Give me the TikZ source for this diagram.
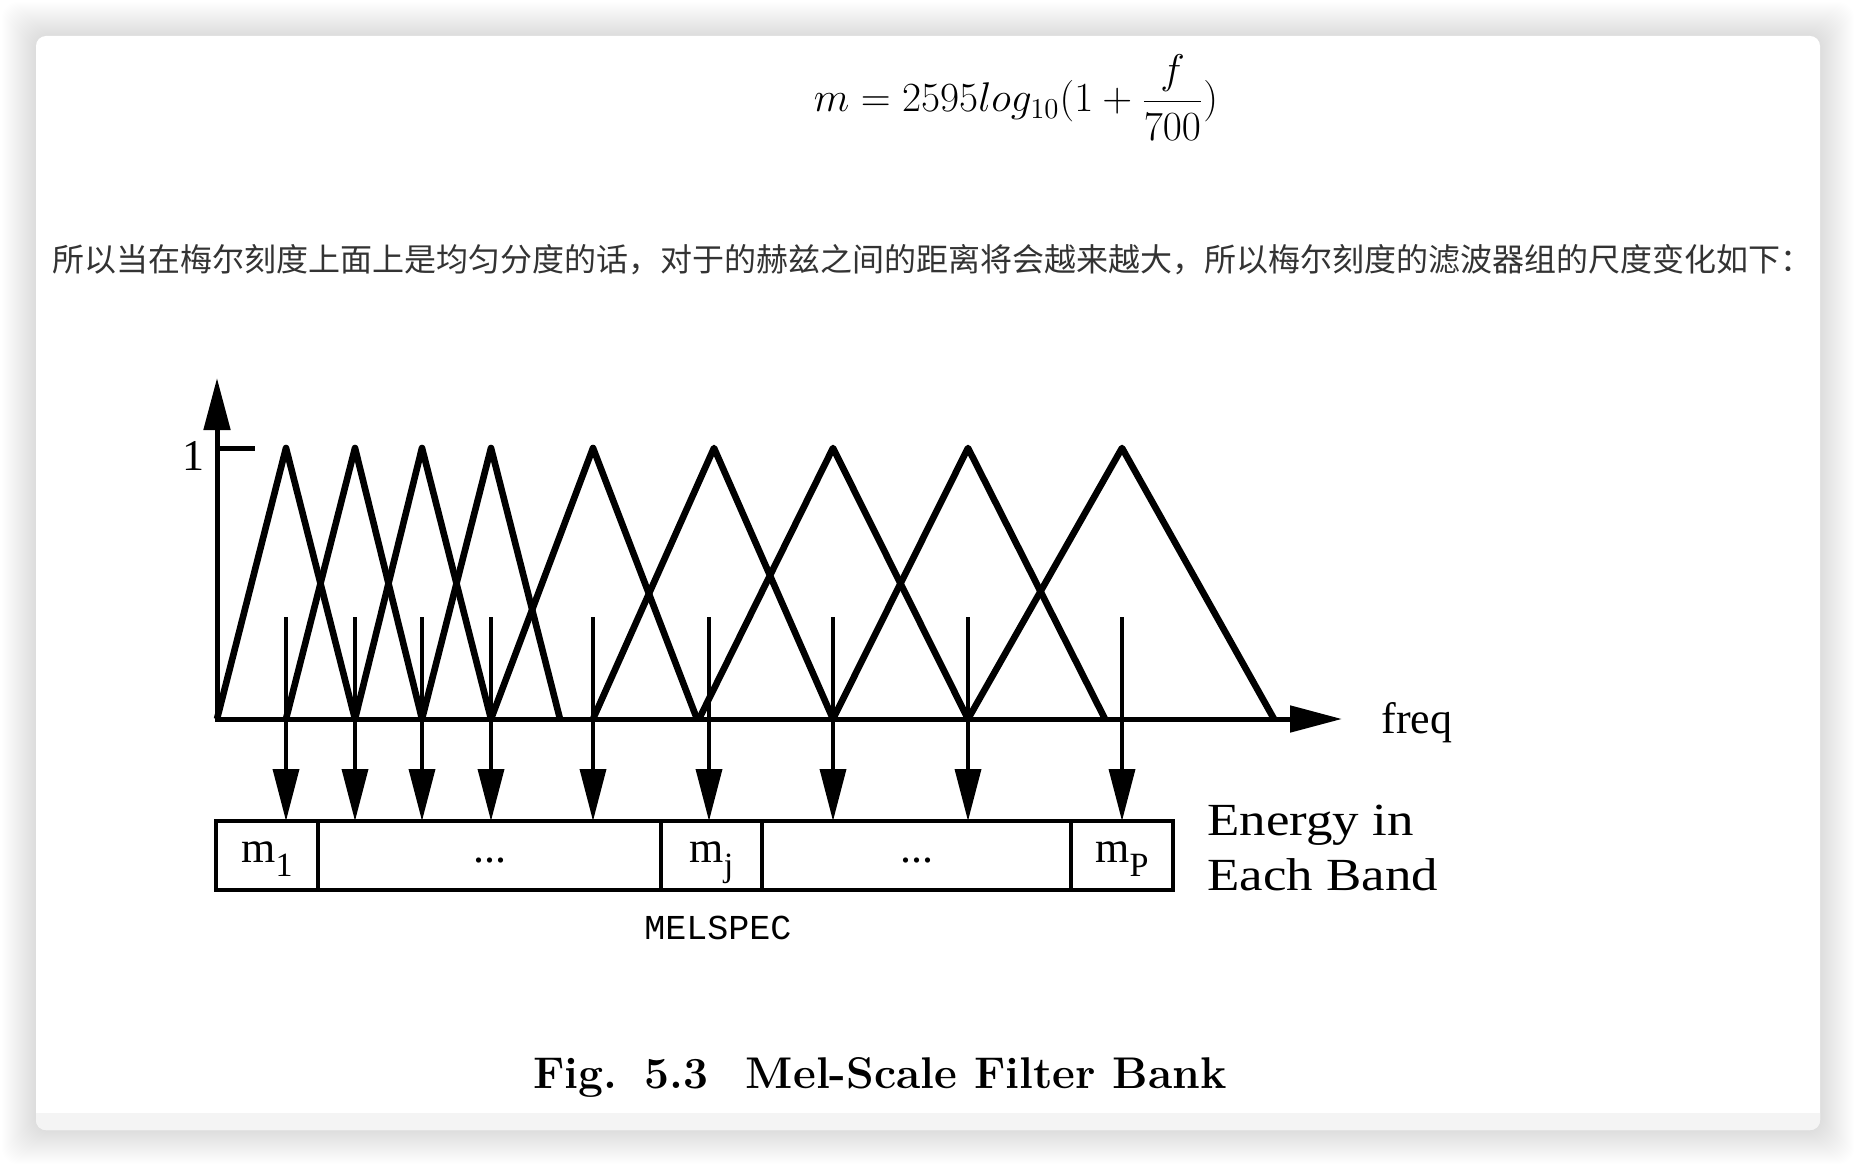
\documentclass[tikz,border=0pt]{standalone}
\usepackage{fontspec}
\usepackage{xcolor}
\usetikzlibrary{arrows.meta,positioning}
\newfontfamily\figfont{Liberation Serif}
\newfontfamily\widefigfont[FakeStretch=1.15]{Liberation Serif}
\newfontfamily\codefont{Liberation Mono}
\newfontfamily\cjkfont{Noto Sans CJK SC}
\definecolor{bodygray}{HTML}{333333}
\definecolor{strip}{HTML}{F4F4F4}
\newcommand{\melband}[1]{m\raisebox{-7pt}{\fontsize{17}{17}\selectfont #1}}

\begin{document}
\begin{tikzpicture}[
  x=0.5pt, y=-0.5pt,
  >={Triangle[length=26pt,width=13pt]},
  axisline/.style={<->, line width=2.5pt},
  melfilter/.style={line width=3.3pt, line join=round},
  bandarrow/.style={->, line width=1.8pt},
  cell/.style={draw, line width=2pt, outer sep=0pt, inner sep=0pt,
               minimum height=34.5pt, text height=12pt, text depth=5pt,
               font=\figfont\fontsize{22}{22}\selectfont},
  axislabel/.style={font=\figfont\fontsize{22}{22}\selectfont, inner sep=0pt},
  bandnote/.style={font=\widefigfont\fontsize{23}{27.5}\selectfont, align=left, inner sep=0pt},
  codelabel/.style={font=\codefont\fontsize{17.5}{20}\selectfont, inner sep=0pt},
  figcaption/.style={font=\bfseries\fontsize{22.2}{26}\selectfont, inner sep=0pt},
  formula/.style={font=\fontsize{19.5}{24}\selectfont, inner sep=0pt},
  bodytext/.style={font=\cjkfont\fontsize{16}{20}\selectfont, text=bodygray, inner sep=0pt}
]
\useasboundingbox (0,0) rectangle (1856,1166);

% Card with soft shadow
\foreach \d in {1,...,34}
  \fill[black, opacity=0.0055, rounded corners=8pt] ({36-\d},{36-\d}) rectangle ({1820+\d},{1130+\d});
\fill[white, rounded corners=5pt] (36,36) rectangle (1820,1130);
\fill[strip, rounded corners=5pt] (36,1113) -- (36,1130) -- (1820,1130) -- (1820,1113);

% Text above the figure
\node[formula, anchor=base] (formula) at (1016,112)
  {$\displaystyle m = 2595log_{10}(1+\frac{f}{700})$};
\node[bodytext, anchor=base west] (note) at (52,271)
  {所以当在梅尔刻度上面上是均匀分度的话，对于的赫兹之间的距离将会越来越大，所以梅尔刻度的滤波器组的尺度变化如下：};

% Axes
\coordinate (origin) at (217,719);
\coordinate (ytip) at (217,378);
\coordinate (xtip) at (1342,719);
\coordinate (tick) at (255,448);
\draw[axisline] (ytip) -- (origin) -- (xtip);
\draw[line width=2.5pt] (tick -| origin) -- (tick);
\node[axislabel, anchor=base east] (one) at (205,470) {1};
\node[axislabel, anchor=base west] (freq) at (1381,733) {freq};

% Triangular filters
\foreach \l/\p/\r in {217/286/355, 286/355/422, 355/422/491, 422/491/560,
                      491/593/697, 593/714/833, 699/833/968, 833/968/1105,
                      968/1122/1274}
  \draw[melfilter] (\l,719) -- (\p,448) -- (\r,719);

% Energy cells
\node[cell, minimum width=51pt] (cell1) at (267,855.5) {\melband{1}};
\node[cell, minimum width=171.5pt, right=0pt of cell1] (cell2) {...};
\node[cell, minimum width=50.5pt, right=0pt of cell2] (cell3) {\melband{j}};
\node[cell, minimum width=154.5pt, right=0pt of cell3] (cell4) {...};
\node[cell, minimum width=51pt, right=0pt of cell4] (cell5) {\melband{P}};
\node[bandnote, right=17pt of cell5, yshift=4pt] (energy) {Energy in\\Each Band};
\node[codelabel] (melspec) at (718,928) {MELSPEC};

% Arrows into the cells
\foreach \x [count=\i] in {286,355,422,491,593,709,833,968,1122} {
  \coordinate (src\i) at (\x,617);
  \draw[bandarrow] (src\i) -- (src\i |- cell1.north);
}

% Caption
\node[figcaption, anchor=base] (caption) at (880,1088)
  {Fig.\hspace{0.6em}5.3\hspace{0.85em}Mel-Scale Filter Bank};

\end{tikzpicture}
\end{document}
